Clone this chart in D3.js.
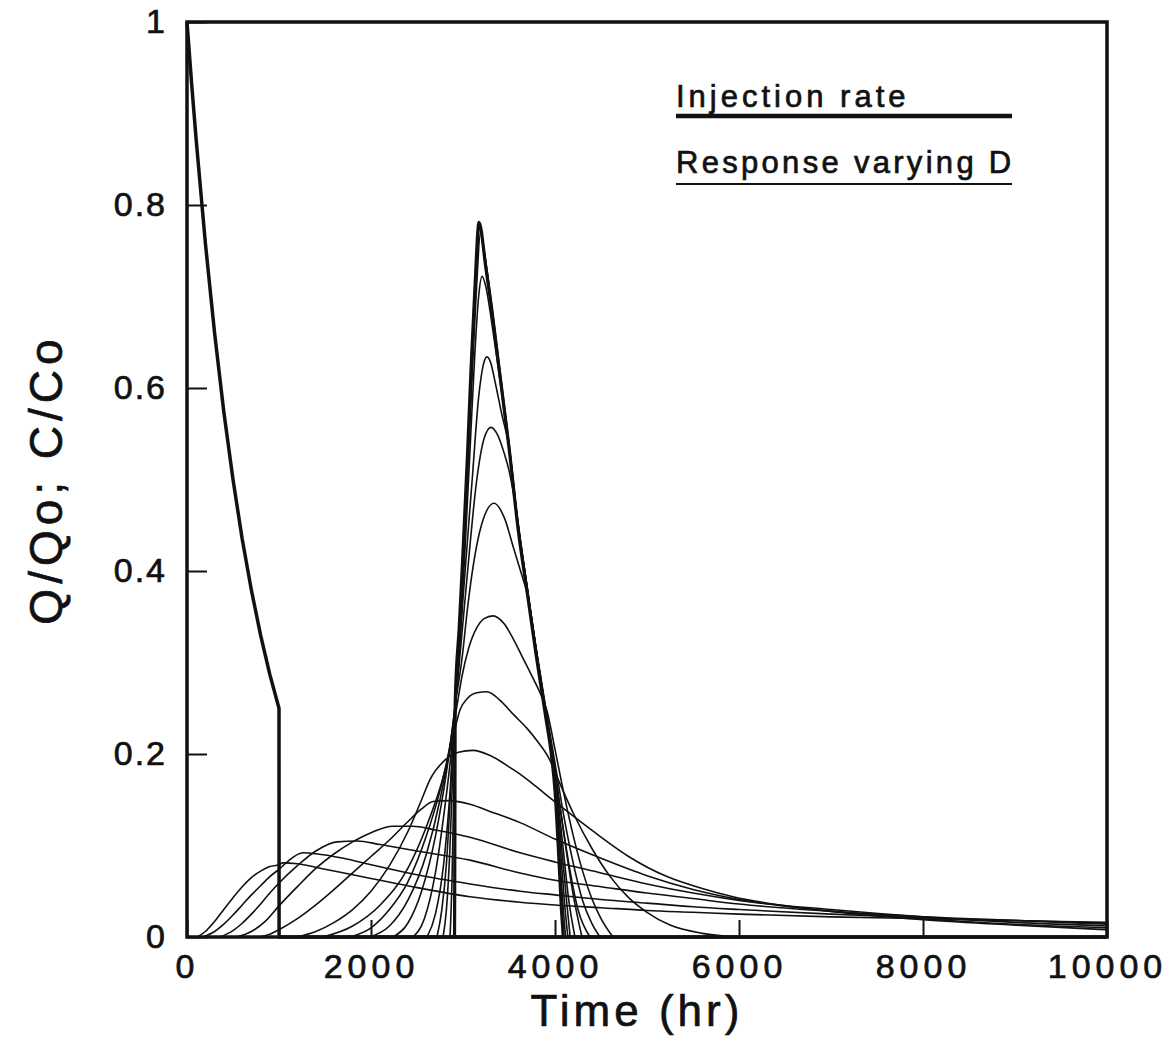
<!DOCTYPE html>
<html>
<head>
<meta charset="utf-8">
<script src="https://cdn.jsdelivr.net/npm/d3@7"></script>
<style>
  html, body { margin: 0; padding: 0; background: #fff; }
  svg text { font-family: "Liberation Sans", Arial, sans-serif; fill: #111; stroke: #111; stroke-width: 0.7px; }
</style>
</head>
<body>
<div id="chart"></div>
<script>
// Injection rate Q/Qo (thick line)
const injection = [
  [0, 1], [50, 0.933], [100, 0.871], [200, 0.758], [300, 0.66], [400, 0.574],
  [500, 0.5], [600, 0.435], [700, 0.379], [800, 0.33], [900, 0.287], [1000, 0.25],
  [1001, 0], [10000, 0]
];

// Responses C/Co for varying D, sharpest first (t in hr, C/Co)
const resp01 = [[2908, 0], [2912, 0.12], [2915, 0.256], [2960, 0.34], [3000, 0.42], [3050, 0.53], [3087, 0.62], [3130, 0.71], [3174, 0.781], [3250, 0.73], [3300, 0.695], [3400, 0.615], [3500, 0.535], [3600, 0.445], [3700, 0.375], [3800, 0.305], [3900, 0.24], [3960, 0.2], [4000, 0.16], [4040, 0.09], [4070, 0.03], [4090, 0]];
const resp02 = [[2859, 0], [2880, 0.06], [2898, 0.15], [2912, 0.24], [2950, 0.32], [3000, 0.415], [3050, 0.525], [3090, 0.625], [3130, 0.715], [3160, 0.765], [3178, 0.779], [3210, 0.76], [3300, 0.695], [3400, 0.615], [3500, 0.535], [3600, 0.446], [3700, 0.376], [3800, 0.306], [3900, 0.241], [3960, 0.201], [4000, 0.165], [4050, 0.09], [4090, 0.03], [4115, 0]];
const resp03 = [[2783, 0], [2820, 0.03], [2855, 0.09], [2885, 0.17], [2915, 0.25], [2955, 0.32], [3000, 0.41], [3050, 0.52], [3095, 0.625], [3140, 0.72], [3183, 0.776], [3220, 0.755], [3300, 0.697], [3400, 0.617], [3500, 0.537], [3600, 0.448], [3700, 0.378], [3800, 0.308], [3900, 0.243], [3960, 0.204], [4000, 0.17], [4060, 0.095], [4110, 0.03], [4140, 0]];
const resp04 = [[2717, 0], [2770, 0.03], [2820, 0.08], [2865, 0.16], [2905, 0.24], [2950, 0.315], [3000, 0.405], [3055, 0.515], [3105, 0.625], [3150, 0.715], [3190, 0.77], [3230, 0.75], [3300, 0.7], [3400, 0.62], [3500, 0.54], [3600, 0.45], [3700, 0.38], [3800, 0.31], [3900, 0.245], [3960, 0.206], [4000, 0.175], [4070, 0.1], [4130, 0.035], [4165, 0]];
const resp05 = [[2609, 0], [2700, 0.025], [2790, 0.08], [2860, 0.16], [2910, 0.24], [2960, 0.31], [3020, 0.42], [3080, 0.54], [3130, 0.64], [3170, 0.7], [3207, 0.722], [3250, 0.71], [3300, 0.68], [3350, 0.645], [3400, 0.61], [3500, 0.534], [3600, 0.448], [3700, 0.378], [3800, 0.309], [3900, 0.245], [3960, 0.207], [4000, 0.178], [4080, 0.105], [4150, 0.04], [4217, 0]];
const resp06 = [[2457, 0], [2580, 0.02], [2700, 0.07], [2800, 0.14], [2880, 0.21], [2930, 0.27], [3000, 0.37], [3100, 0.5], [3170, 0.59], [3220, 0.625], [3260, 0.634], [3300, 0.628], [3350, 0.606], [3420, 0.572], [3500, 0.536], [3600, 0.45], [3700, 0.38], [3800, 0.31], [3900, 0.247], [4000, 0.183], [4100, 0.11], [4200, 0.045], [4293, 0]];
const resp07 = [[2239, 0], [2400, 0.015], [2550, 0.05], [2700, 0.11], [2820, 0.18], [2900, 0.24], [2960, 0.3], [3050, 0.4], [3150, 0.5], [3230, 0.545], [3304, 0.557], [3380, 0.548], [3450, 0.528], [3500, 0.51], [3560, 0.478], [3650, 0.416], [3750, 0.345], [3850, 0.28], [3950, 0.215], [4050, 0.145], [4150, 0.08], [4250, 0.03], [4380, 0]];
const resp08 = [[1989, 0], [2200, 0.012], [2400, 0.04], [2600, 0.09], [2750, 0.15], [2860, 0.21], [2925, 0.26], [2990, 0.305], [3050, 0.36], [3110, 0.405], [3200, 0.45], [3337, 0.474], [3450, 0.458], [3550, 0.425], [3650, 0.392], [3700, 0.375], [3800, 0.312], [3900, 0.25], [4000, 0.19], [4100, 0.13], [4200, 0.08], [4300, 0.04], [4400, 0.015], [4490, 0]];
const resp09 = [[1772, 0], [2000, 0.01], [2200, 0.03], [2400, 0.06], [2600, 0.11], [2750, 0.16], [2860, 0.21], [2930, 0.25], [2989, 0.285], [3060, 0.315], [3150, 0.338], [3230, 0.348], [3326, 0.351], [3450, 0.342], [3550, 0.325], [3650, 0.305], [3750, 0.285], [3850, 0.264], [3913, 0.247], [4000, 0.205], [4100, 0.155], [4200, 0.11], [4300, 0.072], [4400, 0.042], [4500, 0.02], [4630, 0]];
const resp10 = [[1478, 0], [1800, 0.012], [2100, 0.035], [2400, 0.075], [2600, 0.12], [2800, 0.18], [2900, 0.222], [2967, 0.248], [3050, 0.261], [3150, 0.267], [3260, 0.268], [3400, 0.259], [3550, 0.243], [3696, 0.228], [3800, 0.215], [3946, 0.193], [4022, 0.175], [4200, 0.135], [4400, 0.097], [4600, 0.066], [4800, 0.043], [5000, 0.027], [5250, 0.013], [5600, 0.004], [6000, 0]];
const resp11 = [[1196, 0], [1400, 0.006], [1600, 0.016], [1800, 0.03], [2000, 0.05], [2200, 0.078], [2400, 0.115], [2550, 0.15], [2641, 0.172], [2800, 0.193], [2950, 0.202], [3109, 0.204], [3300, 0.198], [3500, 0.186], [3620, 0.178], [3800, 0.164], [3946, 0.152], [4200, 0.132], [4489, 0.11], [4800, 0.088], [5217, 0.066], [5600, 0.053], [5935, 0.044], [6663, 0.032], [7500, 0.024], [8000, 0.02], [9000, 0.014], [10000, 0.01]];
const resp12 = [[793, 0], [900, 0.003], [1000, 0.008], [1200, 0.02], [1400, 0.035], [1600, 0.052], [1800, 0.07], [2000, 0.088], [2200, 0.106], [2400, 0.126], [2550, 0.14], [2674, 0.148], [2850, 0.149], [3076, 0.145], [3300, 0.137], [3620, 0.125], [4000, 0.107], [4500, 0.086], [5000, 0.067], [5500, 0.052], [6000, 0.041], [7000, 0.028], [8000, 0.019], [9000, 0.013], [10000, 0.008]];
const resp13 = [[543, 0], [700, 0.006], [850, 0.017], [1000, 0.034], [1200, 0.055], [1400, 0.075], [1600, 0.091], [1800, 0.104], [2000, 0.114], [2239, 0.121], [2450, 0.121], [2700, 0.117], [3076, 0.109], [3620, 0.092], [4000, 0.082], [4500, 0.07], [5000, 0.058], [5500, 0.048], [6000, 0.04], [7000, 0.03], [8000, 0.022], [9000, 0.016], [10000, 0.012]];
const resp14 = [[359, 0], [500, 0.007], [600, 0.015], [700, 0.025], [800, 0.036], [900, 0.048], [1000, 0.059], [1200, 0.078], [1400, 0.094], [1630, 0.104], [1850, 0.105], [2100, 0.101], [2500, 0.094], [3076, 0.084], [3620, 0.07], [4000, 0.062], [4500, 0.055], [5000, 0.048], [5500, 0.042], [6000, 0.036], [7000, 0.028], [8000, 0.022], [9000, 0.018], [10000, 0.014]];
const resp15 = [[174, 0], [300, 0.006], [400, 0.014], [500, 0.024], [600, 0.035], [700, 0.046], [800, 0.056], [900, 0.066], [1000, 0.074], [1100, 0.083], [1260, 0.092], [1400, 0.091], [1700, 0.086], [2000, 0.079], [2500, 0.068], [3076, 0.058], [3620, 0.05], [4000, 0.046], [4500, 0.041], [5000, 0.037], [5500, 0.033], [6000, 0.03], [7000, 0.025], [8000, 0.021], [9000, 0.018], [10000, 0.015]];
const resp16 = [[109, 0], [200, 0.006], [300, 0.017], [400, 0.03], [500, 0.043], [600, 0.055], [700, 0.065], [800, 0.072], [900, 0.077], [1000, 0.079], [1043, 0.081], [1200, 0.08], [1500, 0.074], [2000, 0.064], [2500, 0.054], [3076, 0.044], [3620, 0.038], [4000, 0.035], [4500, 0.032], [5000, 0.029], [5500, 0.027], [6000, 0.025], [7000, 0.022], [8000, 0.02], [9000, 0.018], [10000, 0.016]];

const responses = [resp01, resp02, resp03, resp04, resp05, resp06, resp07, resp08, resp09, resp10, resp11, resp12, resp13, resp14, resp15, resp16];

const xTicks = [0, 2000, 4000, 6000, 8000, 10000];
const yTicks = [0, 0.2, 0.4, 0.6, 0.8, 1];
const legendLabels = ['Injection rate', 'Response varying D'];

const W = 1170;
const H = 1048;
const margin = { top: 22, right: 63, bottom: 111, left: 187 };
const iw = W - margin.left - margin.right;
const ih = H - margin.top - margin.bottom;

const svg = d3.select('#chart').append('svg')
  .attr('width', W)
  .attr('height', H);

const g = svg.append('g').attr('transform', `translate(${margin.left},${margin.top})`);

const x = d3.scaleLinear().domain([0, 10000]).range([0, iw]);
const y = d3.scaleLinear().domain([0, 1]).range([ih, 0]);

const line = d3.line()
  .x((d) => x(d[0]))
  .y((d) => y(d[1]))
  .curve(d3.curveMonotoneX);

// response curves, the first one is drawn heavier
g.selectAll('path.resp')
  .data(responses)
  .join('path')
  .attr('class', 'resp')
  .attr('d', line)
  .attr('fill', 'none')
  .attr('stroke', '#111')
  .attr('stroke-width', (d, i) => (i === 0 ? 3.2 : 1.6));

// injection rate
g.append('path')
  .datum(injection)
  .attr('d', d3.line().x((d) => x(d[0])).y((d) => y(d[1])).curve(d3.curveLinear))
  .attr('fill', 'none')
  .attr('stroke', '#111')
  .attr('stroke-width', 3.5)
  .attr('stroke-linejoin', 'round');

// axes, ticks pointing inward
const xAxis = g.append('g')
  .attr('transform', `translate(0,${ih})`)
  .call(d3.axisBottom(x).tickValues(xTicks).tickSize(-17).tickPadding(17).tickFormat(d3.format('d')));

const yAxis = g.append('g')
  .call(d3.axisLeft(y).tickValues(yTicks).tickSize(-20).tickPadding(20).tickFormat((d) => (d === 0 || d === 1 ? String(d) : d.toFixed(1))));

[xAxis, yAxis].forEach((a) => {
  a.select('.domain').remove();
  a.selectAll('line').attr('stroke', '#111').attr('stroke-width', 2);
  a.selectAll('text')
    .attr('font-size', 34)
    .attr('fill', '#111');
});
xAxis.selectAll('text').attr('dy', '0.71em').attr('letter-spacing', 5);
yAxis.selectAll('text').attr('letter-spacing', 2);

// frame
g.append('rect')
  .attr('x', 0)
  .attr('y', 0)
  .attr('width', iw)
  .attr('height', ih)
  .attr('fill', 'none')
  .attr('stroke', '#111')
  .attr('stroke-width', 3.5);

// axis titles
svg.append('text')
  .attr('x', margin.left + iw / 2 - 10)
  .attr('y', 1026)
  .attr('text-anchor', 'middle')
  .attr('font-size', 44)
  .attr('letter-spacing', 4)
  .text('Time (hr)');

svg.append('text')
  .attr('transform', `translate(62,${margin.top + ih / 2}) rotate(-90)`)
  .attr('text-anchor', 'middle')
  .attr('font-size', 46)
  .attr('letter-spacing', 5)
  .text('Q/Qo; C/Co');

// legend
const lx = 676;
const legend = svg.append('g');
legend.append('text').attr('x', lx).attr('y', 107).attr('font-size', 31).attr('letter-spacing', 4).text(legendLabels[0]);
legend.append('line').attr('x1', lx).attr('x2', 1012).attr('y1', 116).attr('y2', 116).attr('stroke', '#111').attr('stroke-width', 4.5);
legend.append('text').attr('x', lx).attr('y', 173).attr('font-size', 31).attr('letter-spacing', 3.3).text(legendLabels[1]);
legend.append('line').attr('x1', lx).attr('x2', 1012).attr('y1', 184).attr('y2', 184).attr('stroke', '#111').attr('stroke-width', 2);
</script>
</body>
</html>
